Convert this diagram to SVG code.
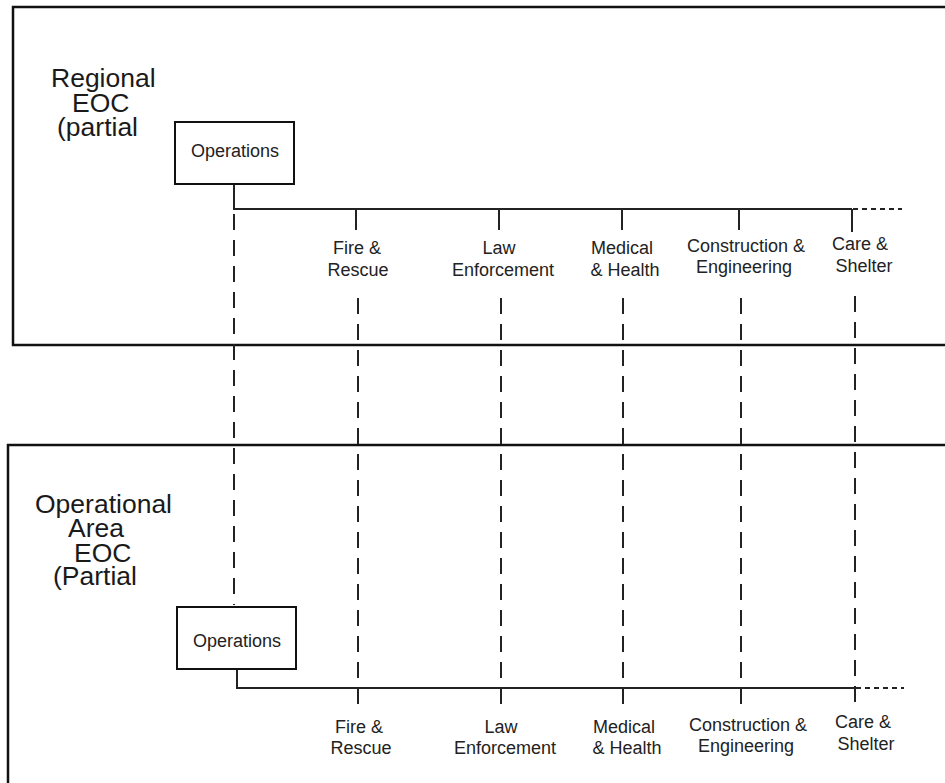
<svg xmlns="http://www.w3.org/2000/svg" width="945" height="783" viewBox="0 0 945 783">
<style>
.frame{fill:none;stroke:#111;stroke-width:2.5}
.box{fill:#fff;stroke:#111;stroke-width:2}
.ln{fill:none;stroke:#222;stroke-width:2}
.dash{fill:none;stroke:#222;stroke-width:2;stroke-dasharray:16 10}
.dot{fill:none;stroke:#222;stroke-width:2;stroke-dasharray:5 4}
.big{font-family:"Liberation Sans",Arial,sans-serif;font-size:26.5px;fill:#1a1a1a}
.lbl{font-family:"Liberation Sans",Arial,sans-serif;font-size:18px;fill:#222;text-anchor:middle}
</style>
<rect width="945" height="783" fill="#fff"/>
<g id="regional-eoc">
<rect class="frame" x="13" y="7" width="945" height="338"/>
<text class="big"><tspan x="51" y="87">Regional</tspan><tspan x="72" y="112">EOC</tspan><tspan x="57" y="136">(partial</tspan></text>
</g>
<g id="operational-area-eoc">
<rect class="frame" x="8" y="445" width="950" height="360"/>
<text class="big"><tspan x="35" y="513">Operational</tspan><tspan x="68" y="537">Area</tspan><tspan x="74" y="562">EOC</tspan><tspan x="53" y="585">(Partial</tspan></text>
</g>
<g id="connectors">
<path class="ln" d="M234 184V209H852M356 209V230M499 209V230M622 209V230M739 209V230M852 209V232"/>
<path class="dot" d="M853 209H902"/>
<path class="dash" d="M234 214V605M358 298V708M501 298V708M623 298V708M741 298V708M855 296V708"/>
<path class="ln" d="M237 669V688H855"/>
<path class="dot" d="M856 688H904"/>
</g>
<g id="ops-top">
<rect class="box" x="175" y="122" width="119" height="62"/>
<text class="lbl" x="235" y="157">Operations</text>
</g>
<g id="ops-bottom">
<rect class="box" x="177" y="607" width="119" height="62"/>
<text class="lbl" x="237" y="647">Operations</text>
</g>
<g id="top-fire"><text class="lbl"><tspan x="357" y="254">Fire &amp;</tspan><tspan x="358" y="276">Rescue</tspan></text></g>
<g id="top-law"><text class="lbl"><tspan x="499" y="254">Law</tspan><tspan x="503" y="276">Enforcement</tspan></text></g>
<g id="top-medical"><text class="lbl"><tspan x="622" y="254">Medical</tspan><tspan x="625" y="276">&amp; Health</tspan></text></g>
<g id="top-construction"><text class="lbl"><tspan x="746" y="252">Construction &amp;</tspan><tspan x="744" y="273">Engineering</tspan></text></g>
<g id="top-care"><text class="lbl"><tspan x="860" y="250">Care &amp;</tspan><tspan x="864" y="272">Shelter</tspan></text></g>
<g id="bot-fire"><text class="lbl"><tspan x="359" y="733">Fire &amp;</tspan><tspan x="361" y="754">Rescue</tspan></text></g>
<g id="bot-law"><text class="lbl"><tspan x="501" y="733">Law</tspan><tspan x="505" y="754">Enforcement</tspan></text></g>
<g id="bot-medical"><text class="lbl"><tspan x="624" y="733">Medical</tspan><tspan x="627" y="754">&amp; Health</tspan></text></g>
<g id="bot-construction"><text class="lbl"><tspan x="748" y="731">Construction &amp;</tspan><tspan x="746" y="752">Engineering</tspan></text></g>
<g id="bot-care"><text class="lbl"><tspan x="863" y="728">Care &amp;</tspan><tspan x="866" y="750">Shelter</tspan></text></g>
</svg>
